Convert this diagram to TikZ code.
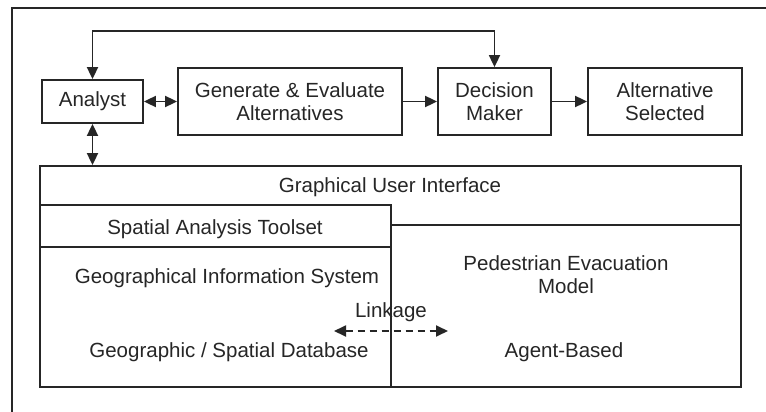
\documentclass[tikz,border=0pt]{standalone}
\usepackage{fontspec}
\setmainfont{Liberation Sans}
\usetikzlibrary{arrows.meta}
\begin{document}
\begin{tikzpicture}[x=1pt,y=-1pt,
  every node/.style={font=\fontsize{20.5}{23}\selectfont, text=black!85},
  box/.style={draw=black!85, line width=1.8pt, inner sep=0pt, align=center},
  lbl/.style={inner sep=0pt, align=center},
  conn/.style={draw=black!85, line width=1.8pt},
  tip/.style={-{Triangle[length=12pt,width=11pt]}},
  tips/.style={{Triangle[length=12pt,width=11pt]}-{Triangle[length=12pt,width=11pt]}},
  dtips/.style={{Triangle[length=12pt,width=11pt]}-{Triangle[length=12pt,width=11pt]}, dash pattern=on 7pt off 5pt}]
\useasboundingbox (0,0) rectangle (766,412);
\fill[white] (0,0) rectangle (766,412);
% outer frame (only top and left edges visible)
\draw[conn] (12,412) -- (12,8) -- (766,8);
% top row
\node[box, minimum width=101pt, minimum height=43pt] (analyst) at (92.5,101.5) {Analyst};
\node[box, minimum width=224pt, minimum height=67pt] (gea) at (290,101.5) {Generate \& Evaluate\\Alternatives};
\node[box, minimum width=113pt, minimum height=67pt] (dm) at (494.5,101.5) {Decision\\Maker};
\node[box, minimum width=154pt, minimum height=67pt] (as) at (665,101.5) {Alternative\\Selected};
% lower block
\node[box, minimum width=701pt, minimum height=221pt] (gui) at (390.5,276.5) {};
\node[box, minimum width=351pt, minimum height=182pt] (sat) at (215.5,296) {};
\draw[conn] (40,247) -- (391,247);
\draw[conn] (391,225) -- (741,225);
\node[lbl] (guit) at (390,187) {Graphical User Interface};
\node[lbl] (satt) at (215,229) {Spatial Analysis Toolset};
\node[lbl] (gis) at (227,278) {Geographical Information System};
\node[lbl] (gdb) at (229,352) {Geographic / Spatial Database};
\node[lbl] (pem) at (566,274.5) {Pedestrian Evacuation\\Model};
\node[lbl] (ab) at (564,352) {Agent-Based};
\node[lbl] (link) at (391,312) {Linkage};
\coordinate (la) at (334,331);
\coordinate (lb) at (448,331);
\draw[conn, dtips] (la) -- (lb);
% connectors
\coordinate (loop) at (300,31);
\draw[conn, tips] (analyst.north) |- (loop) -| (dm.north);
\draw[conn, tips] (analyst.east) -- (gea.west);
\draw[conn, tip] (gea.east) -- (dm.west);
\draw[conn, tip] (dm.east) -- (as.west);
\draw[conn, tips] (analyst.south) -- (analyst.south |- gui.north);
\end{tikzpicture}
\end{document}
